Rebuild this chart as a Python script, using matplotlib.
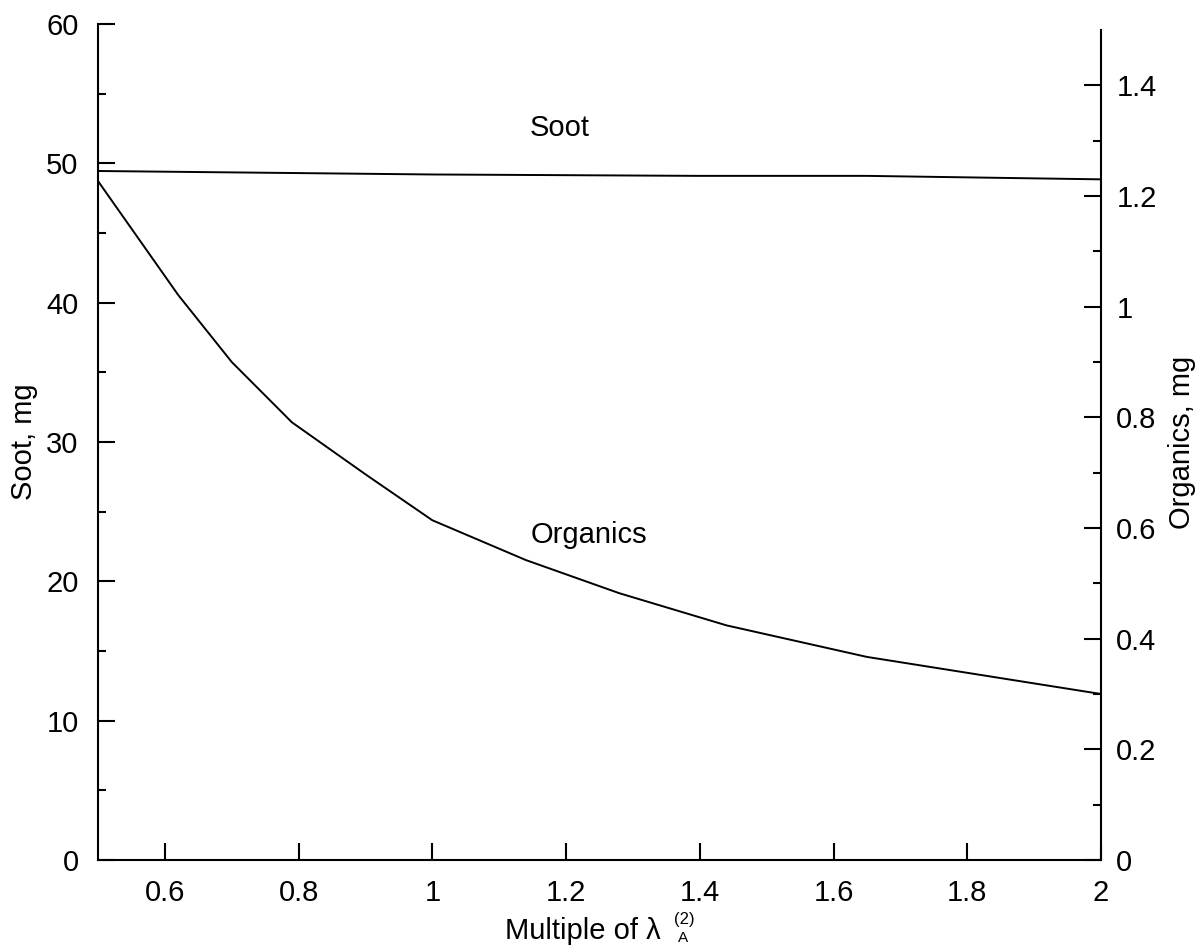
import matplotlib
matplotlib.use('Agg')
import matplotlib.pyplot as plt
from matplotlib.ticker import MultipleLocator

plt.rcParams['font.family'] = ['Liberation Sans', 'DejaVu Sans']

# soot (left axis, mg)
soot_x = [0.5, 0.8, 1.0, 1.4, 1.65, 2.0]
soot_y = [49.45, 49.3, 49.2, 49.1, 49.1, 48.85]

# organics (right axis, mg)
org_x = [0.5, 0.62, 0.7, 0.79, 0.9, 1.0, 1.14, 1.28, 1.44, 1.65, 2.0]
org_y = [1.227, 1.021, 0.900, 0.791, 0.697, 0.614, 0.542, 0.482, 0.424, 0.367, 0.300]

FS = 21
W, H = 1203, 946

fig = plt.figure(figsize=(W / 100, H / 100), dpi=100)
ax = fig.add_axes([98/W, 1 - 860/H, (1101 - 98)/W, (860 - 24)/H])
ax2 = ax.twinx()

ax.plot(soot_x, soot_y, color='black', lw=1.4)
ax2.plot(org_x, org_y, color='black', lw=1.4)

ax.set_xlim(0.5, 2.0)
ax.set_ylim(0, 60)
ax2.set_ylim(0, 1.5 * 836 / 830)

for a in (ax, ax2):
    a.spines['top'].set_visible(False)
    for s in a.spines.values():
        s.set_linewidth(1.5)
ax.spines['right'].set_visible(False)
ax2.spines['left'].set_visible(False)
ax2.spines['bottom'].set_visible(False)
ax2.spines['right'].set_bounds(0, 1.5)

ax.set_xticks([0.6, 0.8, 1.0, 1.2, 1.4, 1.6, 1.8, 2.0])
ax.set_xticklabels(['0.6', '0.8', '1', '1.2', '1.4', '1.6', '1.8', '2'])
ax.yaxis.set_major_locator(MultipleLocator(10))
ax.yaxis.set_minor_locator(MultipleLocator(5))
ax2.set_yticks([0, 0.2, 0.4, 0.6, 0.8, 1.0, 1.2, 1.4])
ax2.set_yticklabels(['0', '0.2', '0.4', '0.6', '0.8', '1', '1.2', '1.4'])
ax2.set_yticks([0.1, 0.3, 0.5, 0.7, 0.9, 1.1, 1.3], minor=True)

ax.tick_params(axis='x', which='major', direction='in', length=12, width=1.5, labelsize=FS, pad=14)
ax.tick_params(axis='y', which='major', direction='in', length=12, width=1.5, labelsize=FS, pad=14)
ax.tick_params(axis='y', which='minor', direction='in', length=6, width=1.5)
ax2.tick_params(axis='y', which='major', direction='in', length=12, width=1.5, labelsize=FS, pad=11)
ax2.tick_params(axis='y', which='minor', direction='in', length=6, width=1.5)

ax.set_ylabel('Soot, mg', fontsize=FS)
ax2.set_ylabel('Organics, mg', fontsize=FS)
ax.yaxis.set_label_coords(-0.0598, 0.5)
ax2.yaxis.set_label_coords(1.0668, 0.5)

# x label: λ with stacked (2) / A
fig.text(505 / W, 1 - 939 / H, 'Multiple of λ', fontsize=FS, ha='left', va='baseline')
fig.text(684 / W, 1 - 919 / H, '(2)', fontsize=12, ha='center', va='center')
fig.text(683 / W, 1 - 938 / H, 'A', fontsize=11, ha='center', va='center')

ax.text(1.19, 52.5, 'Soot', fontsize=FS, ha='center', va='center')
ax.text(1.234, 23.3, 'Organics', fontsize=FS, ha='center', va='center')

fig.savefig('out.png', dpi=100)
